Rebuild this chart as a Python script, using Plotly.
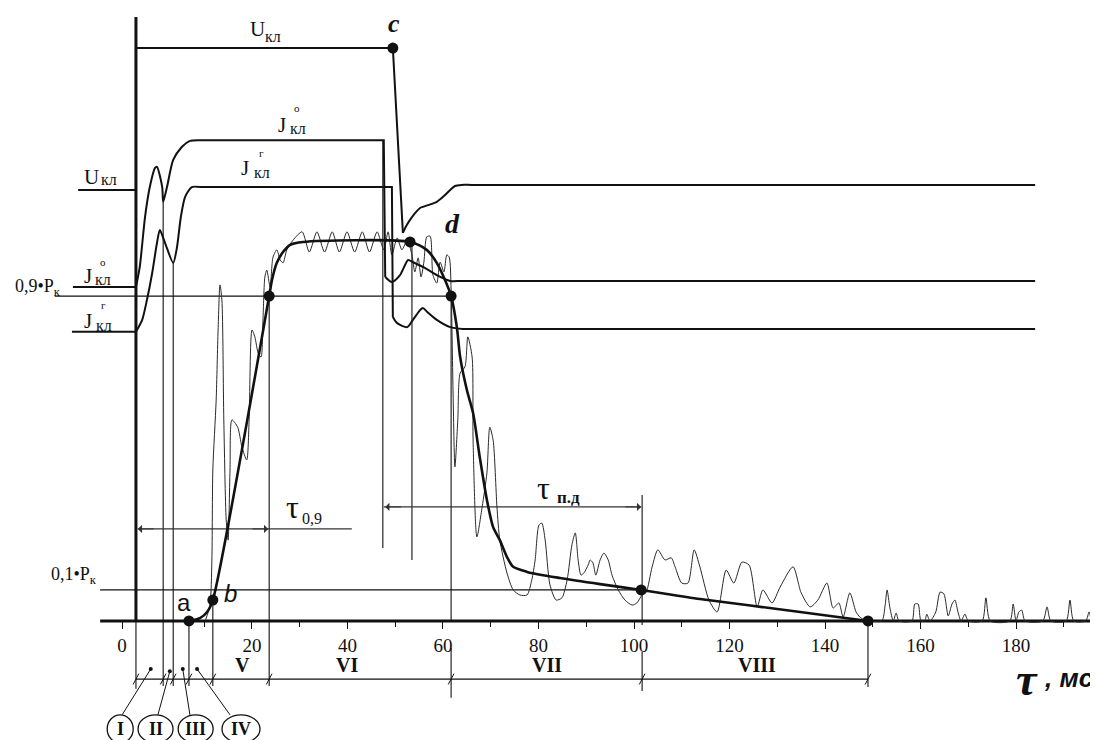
import plotly.graph_objects as go

# ---------------- data (x in ms, y in relative units: 0.9*Pk = 90) ----------------
# tick labels of the time axis
tick_vals = [-7.2, 20, 40, 60, 80, 100, 120, 140, 160, 180]
tick_text = ["0", "20", "40", "60", "80", "100", "120", "140", "160", "180"]
minor_vals = [10, 30, 50, 70, 90, 110, 130, 150, 170, 190]

# smoothed pressure curve P (thick)
p_ms = [6.8, 9.1, 10.6, 11.8, 23.6, 24.2, 25.2, 26.5, 28.0, 30.7, 53.1, 56.6, 58.7, 60.4, 61.7,
        62.9, 63.6, 65.0, 66.3, 67.7, 69.2, 70.5, 71.9, 73.4, 74.7, 77.6, 84.5, 92.9, 101.5,
        113.8, 134.8, 149.0]
p_val = [0, 0.8, 2.5, 5.8, 90.0, 94.5, 99.2, 102.2, 104.2, 105.0, 105.0, 102.8, 99.2, 94.5, 90.0,
         81.4, 73.1, 64.0, 57.6, 45.4, 33.5, 26.0, 22.4, 17.7, 15.0, 13.6, 11.9, 10.2, 8.6,
         6.1, 2.5, 0]

# raw (noisy) pressure signal (thin)
noise_ms = [10.2, 11.2, 11.6, 11.8, 12.5, 12.9, 13.3, 13.7, 14.1, 14.6, 15.0, 15.4, 15.8, 17.0, 17.9,
            18.9, 19.4, 20.0, 20.6, 21.3, 21.9, 22.3, 22.7, 23.1, 23.8, 24.4, 25.2, 25.9, 26.5, 27.3,
            28.6,
            30.5, 32.0, 33.6, 35.2, 36.8, 38.3, 39.9, 41.5, 43.1, 44.6, 46.2,
            47.6, 48.5, 49.3, 50.4, 51.4, 52.5, 53.5, 54.1, 54.8, 55.4, 56.0, 56.6, 57.3, 57.9, 58.7,
            59.4, 60.2, 60.8, 61.3, 61.7, 62.1, 62.5, 63.1, 63.6, 64.6, 65.2, 66.1, 66.3, 67.1, 68.2,
            69.2, 69.8, 70.5, 71.3, 71.9, 73.4, 74.7, 76.1, 77.6, 78.6, 79.3, 80.1, 80.7, 81.4, 82.4,
            83.7, 84.9, 86.0, 87.0, 87.7, 88.3, 88.9, 89.5, 90.4, 90.8, 91.4, 92.0, 92.9, 93.7, 94.6,
            95.4, 96.7, 98.1, 99.6, 100.6, 101.7, 102.5, 103.8, 105.0, 106.5, 107.8, 108.6, 110.0,
            111.3, 112.6, 113.8, 115.7, 117.4, 119.3, 120.9, 122.6, 124.1, 125.8, 127.0, 128.9,
            130.6, 133.3, 135.0, 136.9, 138.5, 140.4, 141.7, 142.9, 143.8, 145.2, 146.5, 147.3, 148.2,
            149.4, 151.9, 152.6, 153.0, 153.6, 154.3, 154.9, 155.5, 158.2, 158.8, 159.5, 160.1, 160.9,
            161.3, 162.0, 163.2, 164.1, 164.9, 165.8, 166.6, 167.2, 167.9, 168.5, 169.3, 170.0, 172.9,
            173.7, 174.6, 178.7, 179.4, 180.0, 180.6, 181.2, 181.9, 185.6, 186.5, 187.3, 190.5, 191.3,
            192.1, 194.6, 195.3, 195.9, 197.2]
noise_val = [0, 4.4, 16.9, 41.8, 61.2, 80.6, 93.1, 88.9, 55.7, 28.0, 22.4, 41.8, 55.7, 53.7, 48.2,
             44.6, 55.7, 80.6, 78.7, 74.2, 73.1, 83.4, 95.3, 97.2, 92.5, 100.8, 102.8, 100.0, 99.2, 102.8,
             105.5,
             107.8, 102.2, 107.8, 102.2, 107.8, 102.2, 107.8, 102.2, 107.8, 102.2, 107.8,
             102.8, 107.8, 101.4, 106.1, 102.8, 105.5, 101.4, 96.7, 100.6, 95.3, 99.4, 106.4, 106.6, 95.8,
             93.6, 99.4, 96.7, 101.4, 100.8, 91.7, 64.0, 42.7, 55.7, 68.7, 70.4, 78.7, 73.1, 50.1, 23.3,
             31.6, 41.0, 53.7, 50.1, 31.6, 22.4, 13.3, 8.6, 7.2, 7.2, 11.4, 16.9, 26.6, 27.1, 22.4, 10.0,
             5.8, 6.4, 11.4, 21.1, 24.4, 16.9, 12.7, 13.3, 15.5, 16.9, 16.1, 12.7, 16.9, 18.8, 16.9,
             12.7, 8.6, 5.8, 4.4, 5.0, 7.2, 7.8, 15.0, 19.7, 16.9, 17.5, 15.0, 10.5, 10.5, 19.7, 15.0,
             5.8, 2.5, 14.1, 10.5, 16.3, 15.5, 3.9, 8.6, 5.0, 9.4, 15.0, 7.8, 3.9, 5.8, 10.5, 3.6, 5.0,
             1.1, 7.8, 2.5, 1.1, 0.3,
             0, 0, 4.4, 8.6, 3.6, 0, 2.2, 0, 0, 4.7, 4.7, 0, 0, 1.9, 0, 2.5, 8.0, 7.5, 1.4, 4.7, 5.8,
             2.2, 0, 1.9, 0, 0, 6.4, 0, 0, 4.7, 0, 2.5, 3.0, 0, 0, 3.9, 0, 0, 5.8, 0, 0, 2.5, 0, 0]

# voltage U_кл
u_ms = [-16.4, -4.3, -4.3, 49.5, 51.6]
u_val = [119.4, 119.4, 158.7, 158.7, 107.5]
u_rec_ms = [51.6, 52.3, 53.1, 54.1, 55.2, 56.9, 58.7, 60.2, 61.5, 62.5, 63.9, 66.0, 184.0]
u_rec_val = [107.5, 109.4, 111.1, 112.9, 114.4, 115.2, 116.1, 117.7, 119.4, 120.5, 120.8, 120.8, 120.8]

# current J°_кл
j0_left_ms = [-17.5, -4.3]
j0_left_val = [92.5, 92.5]
j0_rise_ms = [-4.3, -3.5, -2.4, -1.4, -0.3, 0.1, 1.2, 1.4, 2.2, 3.5, 5.3, 7.0, 8.7]
j0_rise_val = [92.5, 98.1, 111.9, 120.2, 125.5, 125.8, 120.2, 116.1, 120.2, 127.7, 131.3, 133.0, 133.2]
j0_mid_ms = [8.7, 47.6, 47.9]
j0_mid_val = [133.2, 133.2, 95.3]
j0_fall_ms = [47.9, 49.3, 51.0, 52.7, 53.7, 56.2, 58.7, 61.5, 64.0, 184.0]
j0_fall_val = [95.3, 93.9, 95.8, 100.0, 99.4, 97.8, 95.8, 94.2, 94.2, 94.2]

# current Jг_кл
jg_left_ms = [-17.7, -4.3]
jg_left_val = [80.1, 80.1]
jg_rise_ms = [-4.3, -3.0, -2.0, -0.9, 0.1, 0.7, 1.8, 3.5, 4.3, 5.1, 6.0, 7.4, 9.1]
jg_rise_val = [80.1, 83.4, 88.9, 96.4, 104.7, 108.3, 104.7, 99.2, 103.6, 111.9, 117.5, 120.2, 120.2]
jg_mid_ms = [9.1, 49.3, 49.5]
jg_mid_val = [120.2, 120.2, 84.2]
jg_fall_ms = [49.5, 50.4, 52.5, 53.7, 55.2, 55.8, 56.7, 58.7, 61.5, 64.2, 67.0, 184.0]
jg_fall_val = [84.2, 82.5, 81.4, 83.4, 86.1, 86.7, 85.6, 83.4, 81.4, 80.9, 80.9, 80.9]

# levels 0.9*Pk and 0.1*Pk
lvl09_ms = [-21.3, 61.7]
lvl09_val = 90.0
lvl01_ms = [-11.8, 101.5]
lvl01_val = 8.6

# characteristic points
pts_ms = [6.8, 11.8, 23.6, 49.5, 53.1, 61.7, 101.5, 149.0]
pts_val = [0, 5.8, 90.0, 158.7, 105.0, 90.0, 8.6, 0]

# vertical guide lines
vl_ms = [1.4, 3.5, 6.8, 11.8, 23.6, 47.4, 53.5, 61.7, 61.7, 101.7, 101.7, 149.0, -4.3]
vl_top = [116.1, 99.2, 0, 5.8, 90.0, 133.2, 105.0, 90.0, -7.5, 34.9, -8.6, 0, 0]
vl_bot = [-18.0, -18.0, -18.0, -18.0, -18.0, 20.2, 16.9, 0, -21.3, -1.1, -19.4, -18.3, -18.8]

# time axis frame
axis_ms = [-11.8, 199.0]
vaxis_ms = -4.3
vaxis_top = 167.3

# stage dimension line
dim_ms = [-4.3, 149.0]
dim_val = -16.1
dim_bounds = [-4.3, 1.4, 3.5, 6.8, 11.8, 23.6, 61.7, 101.7, 149.0]
roman_text = ["V", "VI", "VII", "VIII"]
roman_ms = [18.1, 39.9, 81.8, 125.8]
roman_val = -12.2
stage_text = ["I", "II", "III", "IV"]
stage_dot_ms = [-1.2, 2.8, 5.5, 8.5]
stage_dot_val = [-13.3, -13.9, -13.3, -13.3]
stage_end_ms = [-7.2, 0.3, 7.0, 15.4]
stage_end_val = -26.0
stage_circ_ms = [-7.6, -0.2, 8.2, 17.7]
stage_circ_val = -29.9
stage_circ_w = [26, 35, 35, 38]

# time intervals tau_0.9 and tau_п.д
tau09_ms = [-3.9, 40.9]
tau09_val = 25.5
tau09_heads = [(-3.9, -0.3), (23.4, 19.8)]
taupd_ms = [47.6, 101.5]
taupd_val = 31.6
taupd_heads = [(47.9, 51.5), (101.5, 97.9)]

# curve labels: main letter (x, y), subscript (x, y), superscript (text, x, y)
curve_labels = [
    ("U", 21.2, 164.1, 24.5, 162.0, None, None, None),
    ("U", -13.6, 122.9, -9.9, 122.2, None, None, None),
    ("J", 26.3, 137.5, 29.7, 136.5, "o", 29.5, 142.0),
    ("J", 18.5, 125.6, 22.0, 124.1, "г", 22.0, 129.6),
    ("J", -14.4, 95.6, -11.1, 94.5, "o", -11.3, 99.4),
    ("J", -14.4, 83.1, -11.0, 81.8, "г", -11.0, 87.4),
]

# ---------------- figure ----------------
INK = "#111111"
SERIF = "Liberation Serif, Times New Roman, serif"
SANS = "Liberation Sans, Arial, sans-serif"

fig = go.Figure()


def line(xs, ys, width, shape="linear", color=INK):
    fig.add_trace(go.Scatter(x=xs, y=ys, mode="lines", hoverinfo="skip",
                             line=dict(color=color, width=width, shape=shape, smoothing=0.7)))


# baseline and vertical axis
line(axis_ms, [0, 0], 3)
line([vaxis_ms, vaxis_ms], [0, vaxis_top], 3)

# reference levels
line(lvl09_ms, [lvl09_val] * 2, 1.3)
line(lvl01_ms, [lvl01_val] * 2, 1.3)

# vertical guide lines
vx, vy = [], []
for x, t, b in zip(vl_ms, vl_top, vl_bot):
    vx += [x, x, None]
    vy += [t, b, None]
line(vx, vy, 1.1)

# stage dimension line with slashes
line(dim_ms, [dim_val] * 2, 1.1)
sx, sy = [], []
for x in dim_bounds:
    sx += [x - 0.6, x + 0.6, None]
    sy += [dim_val - 1.5, dim_val + 1.5, None]
line(sx, sy, 1.0)

# leaders to circled stage labels
lx, ly = [], []
for x0, y0, x1 in zip(stage_dot_ms, stage_dot_val, stage_end_ms):
    lx += [x0, x1, None]
    ly += [y0, stage_end_val, None]
line(lx, ly, 1.0)
fig.add_trace(go.Scatter(x=stage_dot_ms, y=stage_dot_val, mode="markers", hoverinfo="skip",
                         marker=dict(color=INK, size=4)))

# tau dimension lines
line(tau09_ms, [tau09_val] * 2, 1.1, color="#333333")
line(taupd_ms, [taupd_val] * 2, 1.1, color="#333333")
for heads, yv in ((tau09_heads, tau09_val), (taupd_heads, taupd_val)):
    for head, tail in heads:
        fig.add_annotation(x=head, y=yv, ax=tail, ay=yv, xref="x", yref="y", axref="x", ayref="y",
                           text="", showarrow=True, arrowhead=1, arrowsize=1.4, arrowwidth=1,
                           arrowcolor="#333333", standoff=0)

# noisy signal
line(noise_ms, noise_val, 1.0, shape="spline", color="#2a2a2a")

# U and J curves
line(u_ms, u_val, 2.0)
line(u_rec_ms, u_rec_val, 2.0, shape="spline")
line(j0_left_ms, j0_left_val, 2.0)
line(j0_rise_ms, j0_rise_val, 2.0, shape="spline")
line(j0_mid_ms, j0_mid_val, 2.0)
line(j0_fall_ms, j0_fall_val, 2.0, shape="spline")
line(jg_left_ms, jg_left_val, 2.0)
line(jg_rise_ms, jg_rise_val, 2.0, shape="spline")
line(jg_mid_ms, jg_mid_val, 2.0)
line(jg_fall_ms, jg_fall_val, 2.0, shape="spline")

# smoothed pressure
line(p_ms, p_val, 2.6, shape="spline")
fig.add_trace(go.Scatter(x=pts_ms, y=pts_val, mode="markers", hoverinfo="skip",
                         marker=dict(color=INK, size=11)))

# circled stage labels
for cx, w, t in zip(stage_circ_ms, stage_circ_w, stage_text):
    fig.add_shape(type="circle", xref="x", yref="y", xsizemode="pixel", ysizemode="pixel",
                  xanchor=cx, yanchor=stage_circ_val, x0=-w / 2, x1=w / 2, y0=-14, y1=14,
                  line=dict(color=INK, width=1.3))
    fig.add_annotation(x=cx, y=stage_circ_val, text="<b>%s</b>" % t, showarrow=False,
                       font=dict(family=SERIF, size=18, color=INK))

for t, x in zip(roman_text, roman_ms):
    fig.add_annotation(x=x, y=roman_val, text="<b>%s</b>" % t, showarrow=False,
                       font=dict(family=SERIF, size=20, color=INK))


def label(x, y, text, size, family=SERIF, xanchor="center"):
    fig.add_annotation(x=x, y=y, text=text, showarrow=False, xanchor=xanchor,
                       font=dict(family=family, size=size, color=INK))


# point labels
label(49.8, 165.6, "<b><i>c</i></b>", 26)
label(61.9, 110.0, "<b><i>d</i></b>", 28)
label(5.8, 5.0, "a", 24, SANS)
label(15.6, 7.5, "<i>b</i>", 24, SANS)

# curve labels with stacked indices
for main, mx, my, sx_, sy_, sup, px_, py_ in curve_labels:
    label(mx, my, main, 21)
    label(sx_, sy_, "кл", 16)
    if sup:
        label(px_, py_, sup, 11)

label(-24.8, 92.5, "0,9•P<sub>к</sub>", 18)
label(-17.3, 12.7, "0,1•P<sub>к</sub>", 18)

# interval labels
label(28.5, 31.6, "τ", 32)
label(32.6, 28.3, "0,9", 16)
label(81.0, 36.8, "τ", 32)
label(86.2, 34.1, "<b>п.д</b>", 17)

# axis title
label(182.3, -16.3, "<b><i>τ</i></b>", 46)
label(191.0, -15.8, "<b><i>, мс</i></b>", 26, SANS)

# the page places the plot 8 px from the top-left corner; size and ranges compensate
fig.update_layout(
    width=1090, height=732, autosize=False,
    margin=dict(l=0, r=0, t=0, b=0),
    paper_bgcolor="white", plot_bgcolor="white",
    showlegend=False,
    xaxis=dict(range=[-31.095, 197.17], anchor="free", position=(0 + 32.97) / 202.77,
               showgrid=False, zeroline=False, showline=False,
               tickmode="array", tickvals=tick_vals, ticktext=tick_text,
               ticks="outside", ticklen=7, tickwidth=1.2, tickcolor=INK,
               tickfont=dict(family=SERIF, size=19, color=INK),
               minor=dict(tickvals=minor_vals, ticks="outside", ticklen=5, tickwidth=1.2,
                          tickcolor=INK, showgrid=False)),
    yaxis=dict(range=[-32.97, 169.80], visible=False, showgrid=False, zeroline=False),
)

fig.write_html("out.html")
